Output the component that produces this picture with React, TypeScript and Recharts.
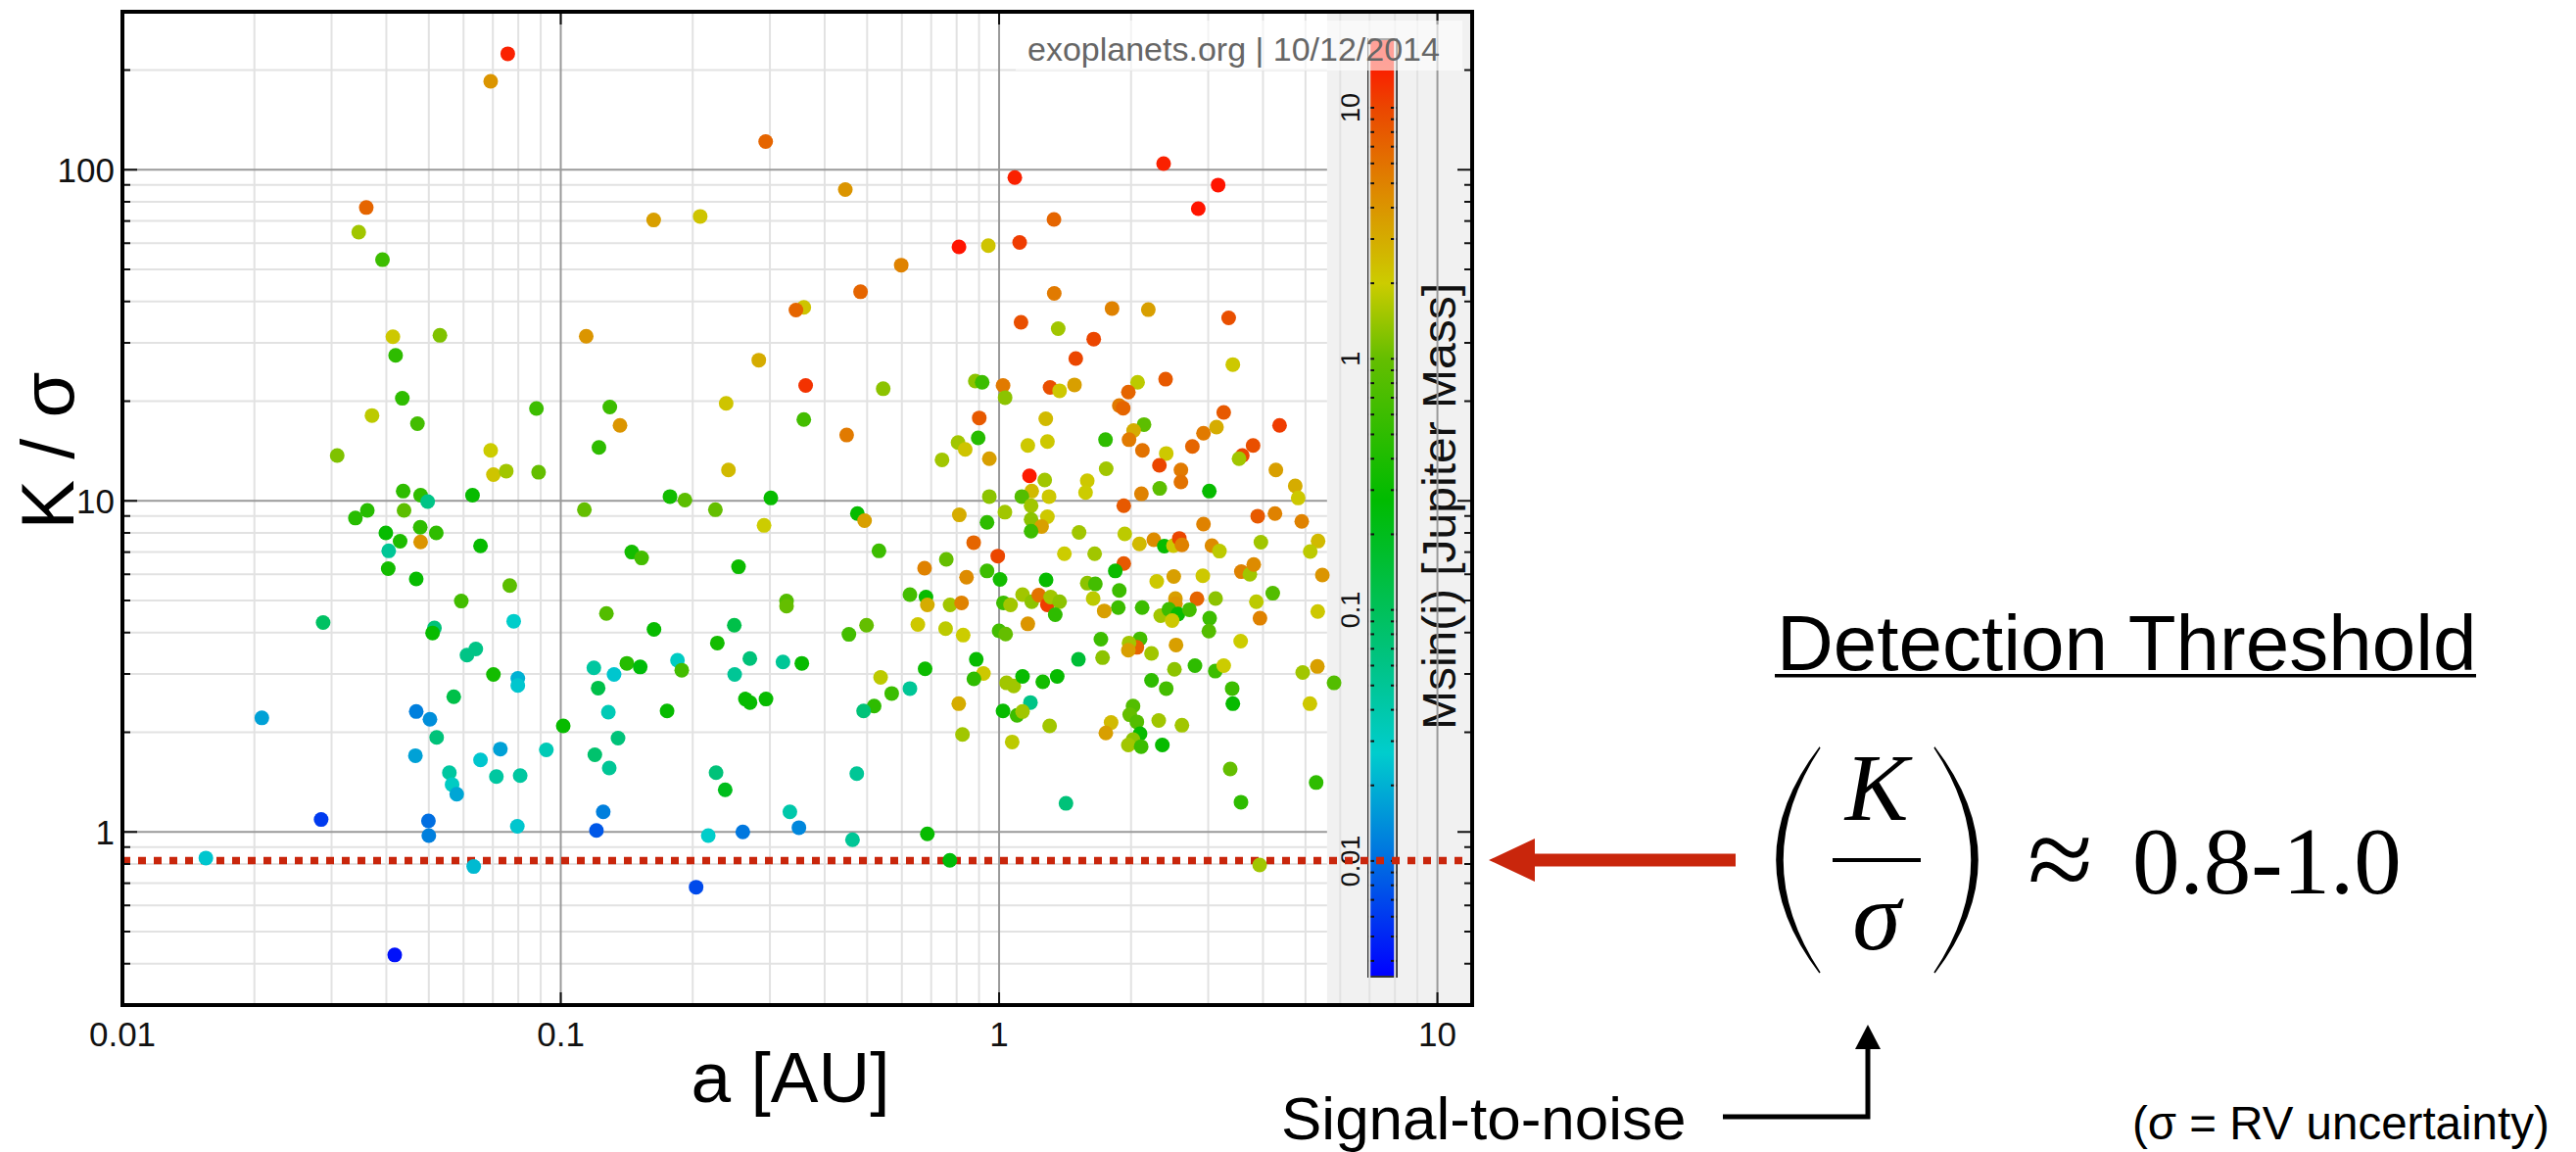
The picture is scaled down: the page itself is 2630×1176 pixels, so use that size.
import React from "react";
import {
  ScatterChart, Scatter, XAxis, YAxis, ReferenceLine,
} from "recharts";

// ============================================================================
// DATA  (a [AU], K/sigma, Msin(i) [M_jup])
// ============================================================================

// close-in planets, a < ~0.1 AU
const innerA = [
  0.0757, 0.0692, 0.036, 0.0346, 0.0392, 0.0414, 0.053, 0.042, 0.0435, 0.0371,
  0.0471, 0.088, 0.0309, 0.0692, 0.0702, 0.0751, 0.089, 0.0437, 0.0479, 0.0497,
  0.0629, 0.034, 0.0362, 0.0439, 0.0399, 0.0478, 0.052, 0.043, 0.0479, 0.0405,
  0.0656, 0.0404, 0.0468, 0.0765, 0.0593, 0.0287, 0.0515, 0.051, 0.0781, 0.0611,
  0.064, 0.0702, 0.0798, 0.0798, 0.057, 0.0208, 0.0468, 0.0503, 0.1013, 0.0521,
  0.0466, 0.0728, 0.0656, 0.0927, 0.0557, 0.0565, 0.0579, 0.0713, 0.0808, 0.0284,
  0.0499, 0.05, 0.0796, 0.0155, 0.0633, 0.0418,
];
const innerK = [
  224, 185, 76.9, 64.8, 53.5, 31.3, 31.6, 27.5, 20.4, 18.1,
  17.1, 19, 13.7, 14.2, 12, 12.3, 12.2, 10.7, 10.4, 9.95,
  10.4, 8.87, 9.36, 9.36, 8.0, 8.32, 8.0, 7.55, 7.51, 7.06,
  7.31, 6.24, 5.81, 5.55, 4.98, 4.29, 4.13, 3.99, 4.33, 3.42,
  3.57, 2.99, 2.91, 2.77, 2.56, 2.21, 2.31, 2.19, 2.09, 1.93,
  1.7, 1.78, 1.65, 1.77, 1.51, 1.39, 1.3, 1.47, 1.48, 1.09,
  1.08, 0.975, 1.04, 0.834, 0.786, 0.425,
];
const innerM = [
  14, 4, 7, 1.5, 0.6, 2.1, 1.2, 0.5, 0.5, 1.8,
  0.65, 0.6, 1.2, 2, 2.2, 1.5, 1, 0.5, 0.5, 0.06,
  0.3, 0.45, 0.45, 0.9, 0.3, 0.5, 0.5, 0.4, 4, 0.05,
  0.3, 0.35, 0.3, 0.9, 0.65, 0.09, 0.07, 0.3, 0.028, 0.06,
  0.06, 0.35, 0.02, 0.025, 0.12, 0.017, 0.012, 0.014, 0.3, 0.07,
  0.017, 0.017, 0.025, 0.035, 0.045, 0.03, 0.018, 0.045, 0.045, 0.006,
  0.01, 0.012, 0.025, 0.025, 0.022, 0.004,
];

// 0.1 - 1 AU
const midA = [
  0.2934, 0.4458, 0.1629, 0.208, 0.81, 0.945, 0.598, 0.483, 0.3585, 0.344,
  0.1143, 0.283, 0.362, 0.544, 0.8825, 0.915, 1.021, 1.032, 0.1294, 0.1365,
  0.2384, 0.3585, 0.449, 0.901, 0.896, 0.806, 0.837, 0.741, 0.95, 0.1222,
  0.2413, 0.1775, 0.192, 0.3015, 0.95,
  0.1132, 0.2253, 0.2909, 0.475, 0.4933, 0.1452, 0.1529, 0.2544, 0.532, 0.1271,
  0.1632, 0.3274, 0.3274, 0.2488, 0.2276, 0.119, 0.1323, 0.1415, 0.1518, 0.1846,
  0.1888, 0.1217, 0.27, 0.2493, 0.3213, 0.3548, 0.2638, 0.2702, 0.2939, 0.1748,
  0.1284, 0.1351, 0.1196, 0.129, 0.2261, 0.2372, 0.4735, 0.125, 0.1206, 0.217,
  0.2602, 0.3332, 0.3494, 0.463, 0.2036, 0.686, 0.772, 0.4543, 0.4984, 0.5366,
  0.5689, 0.5187, 0.4907, 0.626, 0.678, 0.626, 0.681, 0.686, 0.676, 0.7578,
  0.8113, 0.875, 0.9386, 0.993, 0.8427, 0.9386, 1.005, 1.031, 0.773, 0.821,
  0.6526, 0.755, 0.828, 1.023, 1.062, 1.0, 1.035, 0.887, 0.921, 0.876,
  0.809, 0.825, 1.021, 1.04, 1.08, 1.099, 1.071,
];
const midK = [
  121.6, 87.1, 70.5, 72.3, 58.5, 59, 51.5, 42.8, 38.4, 37.7,
  31.4, 26.6, 22.3, 21.8, 23, 22.8, 22.3, 20.5, 19.2, 16.9,
  19.7, 17.6, 15.8, 17.8, 15.5, 15, 14.3, 13.3, 13.4, 14.5,
  12.4, 10.3, 10.05, 10.2, 10.3,
  9.4, 9.4, 8.43, 9.15, 8.71, 7.0, 6.72, 6.32, 7.06, 4.57,
  4.09, 4.98, 4.81, 4.21, 3.72, 3.13, 2.99, 3.23, 3.15, 3.3,
  3.08, 2.72, 3.34, 2.99, 3.26, 3.23, 2.52, 2.46, 2.52, 2.32,
  2.3, 1.92, 1.71, 1.56, 1.51, 1.34, 1.5, 1.15, 1.01, 0.975,
  1.0, 1.15, 1.03, 0.947, 0.681, 0.987, 0.821, 3.95, 4.21, 2.93,
  2.62, 2.4, 2.32, 2.71, 3.11, 5.21, 5.12, 4.85, 6.26, 6.66,
  9.07, 7.48, 8.61, 6.81, 5.88, 6.14, 5.79, 9.24, 4.85, 4.92,
  4.23, 4.11, 3.93, 4.92, 4.85, 4.05, 3.96, 3.32, 3.01, 2.9,
  2.44, 1.97, 2.32, 2.82, 2.76, 2.25, 1.87,
];
const midM = [
  7, 4, 3.5, 2.2, 16, 2.2, 5, 7, 2.2, 7,
  4, 3, 12, 1.3, 1.3, 0.6, 5.5, 1.3, 0.6, 4,
  2.2, 0.65, 5.5, 8, 0.45, 1.5, 2.2, 1.5, 3.5, 0.5,
  2.5, 0.35, 0.9, 0.3, 1.3,
  1.0, 1.0, 2.0, 0.3, 3.5, 0.35, 0.65, 0.32, 0.6, 0.8,
  0.3, 0.8, 1.0, 0.12, 0.35, 0.045, 0.025, 0.45, 0.25, 0.03,
  0.65, 0.12, 0.07, 0.05, 0.05, 0.3, 0.3, 0.3, 0.3, 0.3,
  0.035, 0.07, 0.08, 0.05, 0.07, 0.2, 0.05, 0.012, 0.008, 0.028,
  0.011, 0.04, 0.013, 0.05, 0.007, 0.3, 0.25, 0.65, 1.0, 1.8,
  0.6, 0.5, 0.07, 0.05, 0.32, 0.65, 0.3, 3, 5, 1.0,
  3, 7, 0.5, 10, 4.5, 0.6, 0.35, 1.5, 1.5, 5,
  2.1, 1.8, 2.0, 0.6, 1.5, 0.65, 1.0, 0.3, 2.1, 0.5,
  3, 1.5, 0.3, 1.5, 1.5, 0.6, 1.8,
];

// beyond 1 AU
const outerA = [
  1.086, 2.373, 3.16, 2.847, 1.334, 1.114, 1.336, 1.81, 2.19, 1.122,
  1.364, 3.34, 1.644, 1.496, 3.414, 1.307, 1.374, 1.486, 2.07, 2.398,
  1.972, 1.88, 1.919, 1.278, 1.289, 1.163, 1.749, 2.141, 2.027, 1.979,
  2.123, 2.406, 2.321, 2.76, 2.926, 3.133, 3.254, 3.588, 3.527, 3.797,
  4.364, 4.28, 4.738, 4.812, 2.599, 2.599, 3.017, 2.325, 1.755, 1.589,
  1.575, 2.112, 1.173, 1.271, 1.187, 1.127, 1.3,
  1.925, 1.183, 1.183, 1.289, 1.25, 1.183, 1.522, 1.935, 1.409, 1.652,
  2.09, 2.254, 2.382, 2.499, 2.577, 2.613, 2.926, 3.059, 3.182, 3.89,
  4.26, 4.903, 3.956, 5.342, 5.126, 5.463, 1.925, 1.841, 1.88, 1.87,
  2.12, 1.28, 1.589, 1.658, 1.639, 1.737, 2.289, 2.503, 2.916, 3.57,
  3.733, 3.81, 4.21, 3.863, 3.937, 5.333, 3.118, 2.828, 2.525, 2.525,
  2.337, 2.44, 2.559, 2.482, 2.718, 3.022, 3.01, 3.557, 2.533, 2.227,
  2.097, 2.062, 1.979, 1.972, 1.707, 1.722, 1.517, 1.357, 1.258, 1.131,
  1.179, 1.131, 1.304, 2.021, 1.986, 2.062, 2.097, 2.021, 1.972, 2.109,
  1.801, 1.752, 2.313, 2.357, 2.613, 2.406, 2.227, 2.512, 2.798, 3.113,
  3.254, 3.402, 3.414, 4.928, 5.323, 5.81, 5.118, 3.367, 5.288, 3.563,
  1.421, 3.93, 1.131, 1.187, 1.232, 1.289, 1.311, 1.374, 1.343, 1.163,
];
const outerK = [
  94.7, 104.4, 89.9, 76.3, 70.8, 60.3, 42.3, 38.1, 37.8, 34.6,
  33.1, 35.7, 30.8, 26.9, 25.8, 22, 21.5, 22.4, 22.8, 23.3,
  21.3, 19.4, 19.05, 17.7, 15.1, 14.7, 15.3, 17, 16.3, 15.3,
  14.2, 13.9, 12.8, 14.6, 16, 16.7, 18.5, 13.7, 13.4, 14.7,
  16.9, 12.4, 11.1, 10.2, 12.4, 11.4, 10.7, 10.9, 12.5, 11.5,
  10.6, 10.5, 11.9, 11.56, 10.7, 10.3, 10.3,
  9.67, 9.67, 8.79, 8.95, 8.36, 8.1, 8.03, 7.95, 6.92, 6.92,
  7.41, 7.63, 7.3, 7.32, 7.7, 7.36, 8.51, 7.32, 7.05, 8.99,
  9.15, 8.67, 7.5, 7.56, 7.03, 5.97, 6.47, 6.14, 5.36, 4.76,
  4.76, 5.77, 5.64, 5.61, 5.07, 4.65, 5.71, 5.91, 5.94, 6.11,
  6.0, 6.42, 5.26, 4.96, 4.42, 4.63, 5.07, 5.06, 5.07, 4.89,
  4.5, 4.7, 4.55, 4.35, 4.69, 4.42, 4.04, 3.77, 3.67, 3.46,
  3.83, 3.61, 3.72, 3.54, 3.82, 3.36, 3.32, 2.95, 2.84, 2.95,
  2.46, 2.31, 2.09, 2.4, 2.26, 2.15, 1.98, 1.9, 1.83, 1.81,
  2.14, 1.99, 2.17, 1.83, 2.1, 2.71, 2.87, 3.1, 3.18, 3.06,
  3.18, 2.71, 2.44, 3.03, 3.16, 2.82, 2.44, 1.55, 1.41, 1.23,
  1.22, 0.795, 5.21, 4.96, 5.19, 4.85, 5.12, 4.96, 4.53, 4.25,
];
const outerM = [
  14, 14, 16, 16, 7, 11, 5.5, 5, 3.5, 9,
  1.5, 9, 10, 10, 2.1, 9, 2.1, 3.5, 1.8, 8,
  7, 5.5, 7, 2.5, 2.1, 2.1, 0.5, 0.9, 3, 5.5,
  6, 2.1, 10, 7, 5.5, 3, 8, 10, 1.5, 9,
  11, 3.5, 3, 2.1, 5.5, 6, 0.3, 0.9, 1.5, 2.1,
  2.0, 5, 15, 1.5, 2.5, 0.8, 2.1,
  8, 1.5, 1.3, 2.1, 3.5, 0.6, 1.5, 1.8, 2.0, 1.5,
  2.5, 4.5, 0.3, 2.1, 10, 5, 5, 4.5, 1.8, 8,
  5, 5, 1.5, 2.5, 1.8, 4, 8, 0.32, 0.6, 0.6,
  0.6, 0.3, 1.3, 0.65, 1.8, 3.5, 2.1, 3.5, 2.1, 5,
  1.5, 4.5, 0.8, 1.8, 5, 2.1, 1.3, 7, 3.5, 4,
  1.5, 0.6, 0.3, 2.1, 0.65, 0.6, 0.8, 2.0, 3.5, 1.5,
  0.65, 7, 1.5, 3.5, 0.6, 1.3, 0.15, 0.3, 0.35, 0.3,
  0.06, 1.5, 1.5, 0.8, 1.0, 0.8, 0.3, 1.3, 1.5, 0.6,
  2.5, 3.5, 1.5, 0.3, 1.5, 0.65, 0.5, 1.3, 0.5, 0.6,
  2.0, 0.6, 0.3, 1.5, 3.5, 0.8, 2.1, 1.0, 0.5, 0.5,
  0.07, 1.5, 1.5, 1.3, 6, 11, 1.5, 1.3, 0.5, 4,
];

// axes
const A_TICKS = [0.01, 0.1, 1, 10];
const A_MINOR = [0.02, 0.03, 0.04, 0.05, 0.06, 0.07, 0.08, 0.09, 0.2, 0.3, 0.4, 0.5, 0.6, 0.7, 0.8, 0.9, 2, 3, 4, 5, 6, 7, 8, 9];
const K_MAJOR = [1, 10, 100];
const K_MINOR = [0.4, 0.5, 0.6, 0.7, 0.8, 0.9, 2, 3, 4, 5, 6, 7, 8, 9, 20, 30, 40, 50, 60, 70, 80, 90, 200];
const MASS_LABELS = [0.01, 0.1, 1, 10];
const THRESHOLD = 0.82;

// ============================================================================
// LAYOUT / STYLE
// ============================================================================

const W = 2630;
const H = 1176;
const PLOT_L = 125;
const PLOT_R = 1503;
const PLOT_T = 12;
const PLOT_B = 1026;
const A_MIN = 0.01;
const A_MAX = 12;
const BAND_START = 5.6;
const BAND_X =
  PLOT_L + ((PLOT_R - PLOT_L) * Math.log10(BAND_START / A_MIN)) / Math.log10(A_MAX / A_MIN);

const SANS = '"Liberation Sans", Arial, Helvetica, sans-serif';
const SERIF = '"Liberation Serif", "Times New Roman", serif';
const RED = "#c9260c";
const MAJOR_GRID = "#9a9a9a";
const MINOR_GRID = "#e2e2e2";

// colour bar geometry (log10 mass -> px)
const CB_X = 1397;
const CB_W = 29;
const CB_TOP = 40;
const CB_BOT = 997;
const CB_Y10 = 110;
const CB_DECADE = 256.3;
const cbY = (m: number) => CB_Y10 + (1 - Math.log10(m)) * CB_DECADE;
const T_TOP = 1 + (CB_Y10 - CB_TOP) / CB_DECADE;
const T_BOT = 1 - (CB_BOT - CB_Y10) / CB_DECADE;

// jet-like colour map on log10(M)
const CMAP: Array<[number, number[]]> = [
  [-2.47, [0, 0, 255]],
  [-2.0, [0, 110, 225]],
  [-1.57, [0, 205, 205]],
  [-1.2, [0, 195, 130]],
  [-0.56, [0, 187, 0]],
  [0.0, [100, 190, 0]],
  [0.3, [204, 204, 0]],
  [0.65, [221, 140, 0]],
  [1.0, [235, 70, 0]],
  [1.2, [255, 20, 0]],
];

function massColor(m: number) {
  const t = Math.log10(m);
  if (t <= CMAP[0][0]) return `rgb(${CMAP[0][1].join(",")})`;
  for (let i = 1; i < CMAP.length; i++) {
    const [t1, c1] = CMAP[i];
    const [t0, c0] = CMAP[i - 1];
    if (t <= t1) {
      const f = (t - t0) / (t1 - t0);
      const c = c0.map((v, j) => Math.round(v + (c1[j] - v) * f));
      return `rgb(${c.join(",")})`;
    }
  }
  return `rgb(${CMAP[CMAP.length - 1][1].join(",")})`;
}

function buildPoints() {
  const groups = [
    [innerA, innerK, innerM],
    [midA, midK, midM],
    [outerA, outerK, outerM],
  ];
  const pts: Array<{ a: number; k: number; m: number }> = [];
  groups.forEach(([as, ks, ms]) => {
    const n = Math.min(as.length, ks.length, ms.length);
    for (let i = 0; i < n; i++) pts.push({ a: as[i], k: ks[i], m: ms[i] });
  });
  return pts;
}

const points = buildPoints();

// ============================================================================
// CUSTOM PIECES
// ============================================================================

function XTick(props: any) {
  const { x, payload } = props;
  const v = payload.value;
  const inner = v > 0.011;
  return (
    <g>
      {inner && <line x1={x} x2={x} y1={PLOT_B} y2={PLOT_B - 13} stroke="#111" strokeWidth={2} />}
      {inner && <line x1={x} x2={x} y1={PLOT_T} y2={PLOT_T + 13} stroke="#111" strokeWidth={2} />}
      <text x={x} y={PLOT_B + 42} textAnchor="middle" fontFamily={SANS} fontSize={35} fill="#111">
        {String(v)}
      </text>
    </g>
  );
}

function YTick(props: any) {
  const { y, payload } = props;
  const v = payload.value;
  const major = K_MAJOR.includes(v);
  const len = major ? 15 : 8;
  return (
    <g>
      <line x1={PLOT_L} x2={PLOT_L + len} y1={y} y2={y} stroke="#111" strokeWidth={2} />
      <line x1={PLOT_R} x2={PLOT_R - len} y1={y} y2={y} stroke="#111" strokeWidth={2} />
      {major && (
        <text x={PLOT_L - 8} y={y} dy="0.36em" textAnchor="end" fontFamily={SANS} fontSize={35} fill="#111">
          {String(v)}
        </text>
      )}
    </g>
  );
}

const renderDot = (p: any) => (
  <circle cx={p.cx} cy={p.cy} r={7.5} fill={massColor(p.payload.m)} />
);

// grey strip behind the colour bar + the bar itself
function ColorBar() {
  const stops = [...CMAP].reverse();
  const ticks: number[] = [];
  for (let d = -3; d <= 1; d++) {
    for (let k = 1; k <= 9; k++) {
      const m = k * Math.pow(10, d);
      const y = cbY(m);
      if (y > CB_TOP + 3 && y < CB_BOT - 3) ticks.push(m);
    }
  }
  return (
    <g>
      <rect x={BAND_X} y={PLOT_T} width={PLOT_R - BAND_X} height={PLOT_B - PLOT_T} fill="#f1f1f1" />
      <defs>
        <linearGradient id="massGrad" x1="0" y1="0" x2="0" y2="1">
          {stops.map(([t, c], i) => (
            <stop
              key={i}
              offset={Math.min(1, Math.max(0, (T_TOP - t) / (T_TOP - T_BOT)))}
              stopColor={`rgb(${c.join(",")})`}
            />
          ))}
        </linearGradient>
      </defs>
      <rect x={CB_X} y={CB_TOP} width={CB_W} height={CB_BOT - CB_TOP} fill="url(#massGrad)" stroke="#333" strokeWidth={2} />
      {ticks.map((m, i) => {
        const y = cbY(m);
        return (
          <g key={i}>
            <line x1={CB_X} x2={CB_X + 6} y1={y} y2={y} stroke="#111" strokeWidth={2} />
            <line x1={CB_X + CB_W} x2={CB_X + CB_W - 6} y1={y} y2={y} stroke="#111" strokeWidth={2} />
          </g>
        );
      })}
      {MASS_LABELS.map((m) => (
        <text
          key={m}
          transform={`translate(1388,${cbY(m)}) rotate(-90)`}
          textAnchor="middle"
          fontFamily={SANS}
          fontSize={27}
          fill="#111"
        >
          {String(m)}
        </text>
      ))}
      <text transform="translate(1486,517) rotate(-90)" textAnchor="middle" fontFamily={SANS} fontSize={48} fill="#111">
        Msin(i) [Jupiter Mass]
      </text>
    </g>
  );
}

// ============================================================================
// MAIN
// ============================================================================

export default function App() {
  return (
    <div style={{ position: "absolute", left: 0, top: 0, width: W, height: H, background: "#fff" }}>
      <ScatterChart
        width={W}
        height={H}
        margin={{ top: PLOT_T, right: W - PLOT_R, bottom: H - PLOT_B - 30, left: PLOT_L - 60 }}
      >
        <XAxis
          type="number"
          dataKey="a"
          scale="log"
          domain={[A_MIN, A_MAX]}
          allowDataOverflow
          ticks={A_TICKS}
          interval={0}
          height={30}
          axisLine={false}
          tickLine={false}
          tick={<XTick />}
        />
        <YAxis
          type="number"
          dataKey="k"
          scale="log"
          domain={[0.3, 300]}
          allowDataOverflow
          ticks={[...K_MAJOR, ...K_MINOR].sort((p, q) => p - q)}
          interval={0}
          width={60}
          axisLine={false}
          tickLine={false}
          tick={<YTick />}
        />

        <ColorBar />

        {K_MINOR.map((v) => (
          <ReferenceLine key={`hm${v}`} segment={[{ x: A_MIN, y: v }, { x: BAND_START, y: v }]} stroke={MINOR_GRID} strokeWidth={2} />
        ))}
        {A_MINOR.map((v) => (
          <ReferenceLine key={`vm${v}`} x={v} stroke={MINOR_GRID} strokeWidth={2} />
        ))}
        {K_MAJOR.map((v) => (
          <ReferenceLine key={`hM${v}`} segment={[{ x: A_MIN, y: v }, { x: BAND_START, y: v }]} stroke={MAJOR_GRID} strokeWidth={2} />
        ))}
        {[0.1, 1, 10].map((v) => (
          <ReferenceLine key={`vM${v}`} x={v} stroke={MAJOR_GRID} strokeWidth={2} />
        ))}

        <Scatter data={points} isAnimationActive={false} shape={renderDot} />

        <ReferenceLine y={THRESHOLD} stroke={RED} strokeWidth={7.5} strokeDasharray="8 8" />
      </ScatterChart>

      <svg
        width={W}
        height={H}
        style={{ position: "absolute", left: 0, top: 0, pointerEvents: "none" }}
      >
        {/* plot frame */}
        <rect x={PLOT_L} y={PLOT_T} width={PLOT_R - PLOT_L} height={PLOT_B - PLOT_T} fill="none" stroke="#000" strokeWidth={4} />

        {/* watermark */}
        <rect x={1037} y={21} width={456} height={51} fill="#fff" fillOpacity={0.6} />
        <text x={1049} y={62} fontFamily={SANS} fontSize={34} fill="#666">
          exoplanets.org | 10/12/2014
        </text>

        {/* axis titles */}
        <text transform="translate(75,460) rotate(-90)" textAnchor="middle" fontFamily={SANS} fontSize={76} fill="#000">
          K / σ
        </text>
        <text x={807} y={1125} textAnchor="middle" fontFamily={SANS} fontSize={73} fill="#000">
          a [AU]
        </text>

        {/* red arrow pointing at the threshold */}
        <polygon
          points="1520,878 1567,856 1567,871.5 1772,871.5 1772,884.5 1567,884.5 1567,900"
          fill={RED}
        />

        {/* detection threshold annotation */}
        <text x={1814} y={684} fontFamily={SANS} fontSize={80} fill="#000">
          Detection Threshold
        </text>
        <rect x={1812} y={688} width={716} height={3.5} fill="#000" />

        <path d="M 1858 763 Q 1770 878 1858 993 Q 1782 878 1858 763 Z" fill="#000" stroke="#000" strokeWidth={1.5} />
        <path d="M 1975 763 Q 2063 878 1975 993 Q 2051 878 1975 763 Z" fill="#000" stroke="#000" strokeWidth={1.5} />
        <text x={1916} y={837} textAnchor="middle" fontFamily={SERIF} fontStyle="italic" fontSize={97} fill="#000">
          K
        </text>
        <line x1={1871} x2={1961} y1={878} y2={878} stroke="#000" strokeWidth={4} />
        <text x={1916} y={969} textAnchor="middle" fontFamily={SERIF} fontStyle="italic" fontSize={100} fill="#000">
          σ
        </text>
        <text x={2070} y={918} fontFamily={SERIF} fontSize={122} fill="#000">
          ≈
        </text>
        <text x={2177} y={912} fontFamily={SERIF} fontSize={97} fill="#000">
          0.8-1.0
        </text>

        {/* signal-to-noise pointer */}
        <text x={1308} y={1163} fontFamily={SANS} fontSize={62} fill="#000">
          Signal-to-noise
        </text>
        <path d="M 1759 1140 H 1907 V 1066" fill="none" stroke="#000" strokeWidth={5} />
        <polygon points="1907,1046 1894,1071 1920,1071" fill="#000" />

        <text x={2177} y={1163} fontFamily={SANS} fontSize={47.5} fill="#000">
          (σ = RV uncertainty)
        </text>
      </svg>
    </div>
  );
}
